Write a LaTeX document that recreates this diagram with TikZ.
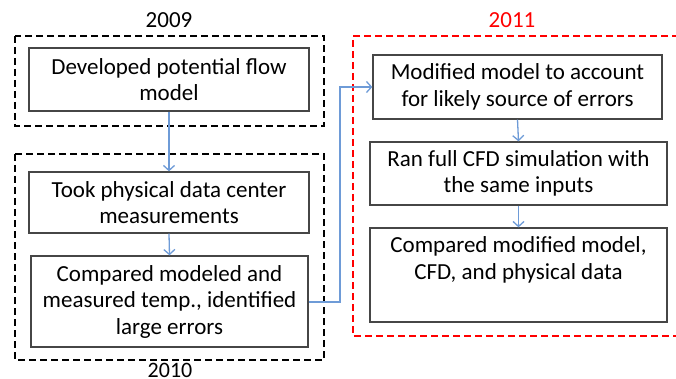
\documentclass[tikz,border=0pt]{standalone}
\usepackage{fontspec}
\setmainfont{Carlito}
\usetikzlibrary{arrows.meta}
\definecolor{conn}{RGB}{110,155,215}
\definecolor{boxline}{RGB}{70,70,70}
\definecolor{yr}{RGB}{255,0,0}
\tikzset{
  stepbox/.style={draw=boxline, line width=1.3pt, inner sep=0pt, align=center,
    font=\fontsize{23}{26.5}\selectfont},
  yearbox/.style={draw=black, line width=1.8pt, dash pattern=on 7pt off 4pt},
  redbox/.style={draw=yr, line width=1.8pt, dash pattern=on 7pt off 4pt},
  yeartext/.style={font=\fontsize{23}{25}\selectfont, inner sep=0pt},
  conn/.style={draw=conn, line width=1.3pt, -{Straight Barb[length=5pt,width=11pt]}}
}
\begin{document}
\begin{tikzpicture}[x=1pt,y=-1pt]
\useasboundingbox (0,0) rectangle (676,379);
% year groups
\draw[yearbox] (15,36) rectangle (324,126);
\draw[yearbox] (15,154) rectangle (324,360);
\draw[redbox] (690,36) -- (353,36) -- (353,336) -- (690,336);
\node[yeartext] (y09) at (169,20) {2009};
\node[yeartext, font=\fontsize{22}{24}\selectfont] (y10) at (170,370) {2010};
\node[yeartext, text=yr] (y11) at (512,20) {2011};
% steps
\node[stepbox, minimum width=280pt, minimum height=63pt] (A) at (169,79.5)
  {Developed potential flow\\model};
\node[stepbox, minimum width=280pt, minimum height=61pt] (B) at (169,202.5)
  {Took physical data center\\measurements};
\node[stepbox, minimum width=277pt, minimum height=91pt] (C) at (169.5,301.5)
  {Compared modeled and\\measured temp., identified\\large errors};
\node[stepbox, minimum width=289pt, minimum height=64pt] (D) at (517.5,87)
  {Modified model to account\\for likely source of errors};
\node[stepbox, minimum width=297pt, minimum height=63pt] (E) at (518.5,173.5)
  {Ran full CFD simulation with\\the same inputs};
\node[stepbox, minimum width=297pt, minimum height=94pt] (F) at (518.5,275) {};
\node[stepbox, draw=none, anchor=north] (Ft) at ([yshift=-9pt]F.north)
  {Compared modified model,\\CFD, and physical data};
% connectors
\coordinate (bend1) at (340,302);
\coordinate (bend2) at (340,87);
\draw[conn] (A.south) -- (B.north);
\draw[conn] (B.south) -- (C.north);
\draw[conn] (C.east |- bend1) -- (bend1) -- (bend2) -- (D.west);
\draw[conn] (D.south) -- (E.north);
\draw[conn] (E.south) -- (F.north);
\end{tikzpicture}
\end{document}
